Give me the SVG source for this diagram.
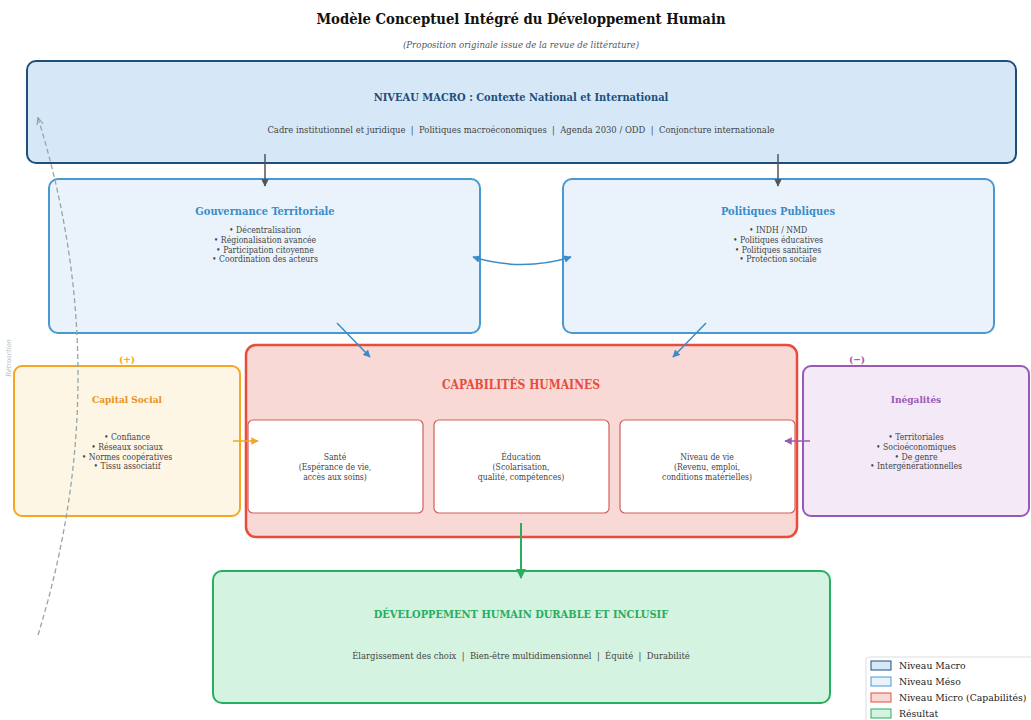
<svg xmlns="http://www.w3.org/2000/svg" width="1031" height="720" viewBox="0 0 1031 720">
<style>
text{font-family:"DejaVu Serif","Liberation Serif",serif;font-stretch:condensed;text-anchor:middle;white-space:pre;}
.title{font-size:14.7px;font-weight:bold;fill:#111;}
.sub{font-size:9.6px;font-style:italic;fill:#555;}
.h{font-size:11px;font-weight:bold;}
.body{font-size:9.4px;fill:#444;}
.small{font-size:8.6px;fill:#444;}
.leg{font-size:9.3px;fill:#222;text-anchor:start;font-stretch:normal;}
.box{stroke-width:2;}
</style>
<defs>
<marker id="ag" viewBox="0 0 10 10" refX="9" refY="5" markerWidth="5" markerHeight="5" orient="auto-start-reverse"><path d="M0,0 L10,5 L0,10 z" fill="#555"/></marker>
<marker id="ab" viewBox="0 0 10 10" refX="9" refY="5" markerWidth="5" markerHeight="5" orient="auto-start-reverse"><path d="M0,0 L10,5 L0,10 z" fill="#3a8cc8"/></marker>
<marker id="ao" viewBox="0 0 10 10" refX="9" refY="5" markerWidth="5" markerHeight="5" orient="auto"><path d="M0,0 L10,5 L0,10 z" fill="#f5a623"/></marker>
<marker id="ap" viewBox="0 0 10 10" refX="9" refY="5" markerWidth="5" markerHeight="5" orient="auto"><path d="M0,0 L10,5 L0,10 z" fill="#9b59b6"/></marker>
<marker id="agr" viewBox="0 0 10 10" refX="9" refY="5" markerWidth="5" markerHeight="5" orient="auto"><path d="M0,0 L10,5 L0,10 z" fill="#27ae60"/></marker>
<marker id="afb" viewBox="0 0 10 10" refX="9" refY="5" markerWidth="6" markerHeight="6" orient="auto"><path d="M0,1 L10,5 L0,9" fill="none" stroke="#95a5a6" stroke-width="1.5"/></marker>
</defs>
<rect width="1031" height="720" fill="#fff"/>
<text class="title" x="521" y="24">Modèle Conceptuel Intégré du Développement Humain</text>
<text class="sub" x="521" y="48">(Proposition originale issue de la revue de littérature)</text>

<g id="macro">
<rect class="box" x="27" y="61" width="989" height="102" rx="9" fill="#d6e8f7" stroke="#1f4e79"/>
<text class="h" x="521" y="101" fill="#1f4e79">NIVEAU MACRO : Contexte National et International</text>
<text class="body" x="521" y="133">Cadre institutionnel et juridique  |  Politiques macroéconomiques  |  Agenda 2030 / ODD  |  Conjoncture internationale</text>
</g>

<g id="gouvernance">
<rect class="box" x="49" y="179" width="431" height="154" rx="9" fill="#eaf3fb" stroke="#4a98d0"/>
<text class="h" x="265" y="215" fill="#3a8cc8">Gouvernance Territoriale</text>
<text class="small" x="265" y="233">• Décentralisation</text>
<text class="small" x="265" y="243">• Régionalisation avancée</text>
<text class="small" x="265" y="253">• Participation citoyenne</text>
<text class="small" x="265" y="262">• Coordination des acteurs</text>
</g>

<g id="politiques">
<rect class="box" x="563" y="179" width="431" height="154" rx="9" fill="#eaf3fb" stroke="#4a98d0"/>
<text class="h" x="778" y="215" fill="#3a8cc8">Politiques Publiques</text>
<text class="small" x="778" y="233">• INDH / NMD</text>
<text class="small" x="778" y="243">• Politiques éducatives</text>
<text class="small" x="778" y="253">• Politiques sanitaires</text>
<text class="small" x="778" y="262">• Protection sociale</text>
</g>

<g id="capital-social">
<rect class="box" x="14" y="366" width="226" height="150" rx="8" fill="#fef6e4" stroke="#f5a623"/>
<text class="h" x="127" y="403" fill="#e8921a" style="font-size:10px">Capital Social</text>
<text class="small" x="127" y="440">• Confiance</text>
<text class="small" x="127" y="450">• Réseaux sociaux</text>
<text class="small" x="127" y="460">• Normes coopératives</text>
<text class="small" x="127" y="469">• Tissu associatif</text>
<text x="127" y="363" style="font-size:10px;font-weight:bold;fill:#f5a623">(+)</text>
</g>

<g id="inegalites">
<rect class="box" x="803" y="366" width="226" height="150" rx="8" fill="#f3e9f7" stroke="#9b59b6"/>
<text class="h" x="916" y="403" fill="#9b59b6" style="font-size:10px">Inégalités</text>
<text class="small" x="916" y="440">• Territoriales</text>
<text class="small" x="916" y="450">• Socioéconomiques</text>
<text class="small" x="916" y="460">• De genre</text>
<text class="small" x="916" y="469">• Intergénérationnelles</text>
<text x="857" y="363" style="font-size:10px;font-weight:bold;fill:#9b59b6">(−)</text>
</g>

<g id="capabilites">
<rect x="246" y="345" width="551" height="192" rx="10" fill="#f9d9d6" stroke="#e74c3c" stroke-width="2.5"/>
<text class="h" x="521" y="389" fill="#e74c3c" style="font-size:12px">CAPABILITÉS HUMAINES</text>
</g>
<g id="sante">
<rect x="248" y="420" width="175" height="93" rx="5" fill="#fff" stroke="#d0605a" stroke-width="1.2"/>
<text class="small" x="335" y="460">Santé</text>
<text class="small" x="335" y="470">(Espérance de vie,</text>
<text class="small" x="335" y="480">accès aux soins)</text>
</g>
<g id="education">
<rect x="434" y="420" width="175" height="93" rx="5" fill="#fff" stroke="#d0605a" stroke-width="1.2"/>
<text class="small" x="521" y="460">Éducation</text>
<text class="small" x="521" y="470">(Scolarisation,</text>
<text class="small" x="521" y="480">qualité, compétences)</text>
</g>
<g id="niveau-vie">
<rect x="620" y="420" width="175" height="93" rx="5" fill="#fff" stroke="#d0605a" stroke-width="1.2"/>
<text class="small" x="707" y="460">Niveau de vie</text>
<text class="small" x="707" y="470">(Revenu, emploi,</text>
<text class="small" x="707" y="480">conditions matérielles)</text>
</g>

<g id="resultat">
<rect class="box" x="213" y="571" width="617" height="132" rx="9" fill="#d4f3e0" stroke="#27ae60"/>
<text class="h" x="521" y="618" fill="#27ae60">DÉVELOPPEMENT HUMAIN DURABLE ET INCLUSIF</text>
<text class="body" x="521" y="659">Élargissement des choix  |  Bien-être multidimensionnel  |  Équité  |  Durabilité</text>
</g>

<g id="connectors" fill="none">
<line x1="265" y1="154" x2="265" y2="186" stroke="#555" stroke-width="1.5" marker-end="url(#ag)"/>
<line x1="778" y1="154" x2="778" y2="186" stroke="#555" stroke-width="1.5" marker-end="url(#ag)"/>
<path d="M473,257 Q522,272 571,257" stroke="#3a8cc8" stroke-width="1.5" marker-start="url(#ab)" marker-end="url(#ab)"/>
<line x1="337" y1="323" x2="370" y2="357" stroke="#3a8cc8" stroke-width="1.5" marker-end="url(#ab)"/>
<line x1="706" y1="323" x2="673" y2="357" stroke="#3a8cc8" stroke-width="1.5" marker-end="url(#ab)"/>
<line x1="233" y1="441" x2="258" y2="441" stroke="#f5a623" stroke-width="1.5" marker-end="url(#ao)"/>
<line x1="810" y1="441" x2="785" y2="441" stroke="#9b59b6" stroke-width="1.5" marker-end="url(#ap)"/>
<line x1="521" y1="523" x2="521" y2="578" stroke="#27ae60" stroke-width="2" marker-end="url(#agr)"/>
<path d="M38,635 Q118,376 38,118" stroke="#95a5a6" stroke-width="1.3" stroke-dasharray="5,3" marker-end="url(#afb)"/>
</g>
<text x="11" y="358" transform="rotate(-90 11 358)" style="font-size:7px;font-style:italic;fill:#b0bcc0">Rétroaction</text>

<g id="legende">
<rect x="866" y="657" width="175" height="70" rx="3" fill="#fff" stroke="#ddd" stroke-width="1"/>
<rect x="871" y="661" width="20" height="9" fill="#d6e8f7" stroke="#1f4e79" stroke-width="1"/>
<text class="leg" x="899" y="669">Niveau Macro</text>
<rect x="871" y="677" width="20" height="9" fill="#eaf3fb" stroke="#4a98d0" stroke-width="1"/>
<text class="leg" x="899" y="685">Niveau Méso</text>
<rect x="871" y="693" width="20" height="9" fill="#f9d9d6" stroke="#e74c3c" stroke-width="1"/>
<text class="leg" x="899" y="701">Niveau Micro (Capabilités)</text>
<rect x="871" y="709" width="20" height="9" fill="#d4f3e0" stroke="#27ae60" stroke-width="1"/>
<text class="leg" x="899" y="717">Résultat</text>
</g>
</svg>
